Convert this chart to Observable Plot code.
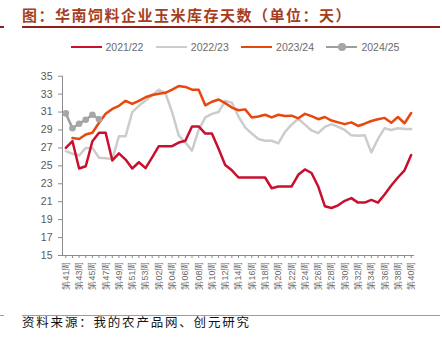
<!DOCTYPE html>
<html><head><meta charset="utf-8">
<script src="https://cdn.jsdelivr.net/npm/d3@7"></script>
<script src="https://cdn.jsdelivr.net/npm/@observablehq/plot@0.6"></script>
<style>
body{margin:0;background:#fff;}
#wrap{position:relative;width:442px;height:345px;overflow:hidden;font-family:Arial,"Liberation Sans",sans-serif;background:#fff;}
#title{position:absolute;left:22px;top:5px;font-family:"Noto Sans CJK SC",sans-serif;font-weight:bold;font-size:15px;letter-spacing:1.5px;color:#A63E1E;white-space:nowrap;line-height:20px;}
.rule1{position:absolute;left:22px;top:26px;width:418px;height:1.5px;background:#8E1F1F;}
.stub1{position:absolute;left:0;top:26px;width:4px;height:1.5px;background:#8E1F1F;}
.rule2{position:absolute;left:22px;top:315px;width:418px;height:1px;background:#C98A8A;}
.stub2{position:absolute;left:0;top:315px;width:4px;height:1px;background:#C98A8A;}
#legend{position:absolute;left:70.5px;top:41px;display:flex;align-items:center;font-size:10.5px;color:#6b6b6b;}
.item{display:flex;align-items:center;width:85.3px;}
.sw{position:relative;width:31px;height:2.5px;margin-right:4px;flex:none;}
.sw .dot{position:absolute;left:12px;top:-2.5px;width:7.5px;height:7.5px;border-radius:50%;}
#chart{position:absolute;left:0;top:0;}
#caption{position:absolute;left:22px;top:314px;font-family:"Noto Sans CJK SC",serif;font-size:12.5px;letter-spacing:1.8px;color:#111;white-space:nowrap;line-height:16px;}
</style></head><body>
<div id="wrap">
  <div id="chart"></div>
  <div class="stub1"></div>
  <div id="title">图：华南饲料企业玉米库存天数（单位：天）</div>
  <div class="rule1"></div>
  <div id="legend"></div>
  <div class="stub2"></div>
  <div class="rule2"></div>
  <div id="caption">资料来源：我的农产品网、创元研究</div>
</div>
<script>
const weeks = ["第41周","第42周","第43周","第44周","第45周","第46周","第47周","第48周","第49周","第50周","第51周","第52周","第53周",
"第01周","第02周","第03周","第04周","第05周","第06周","第07周","第08周","第09周","第10周",
"第11周","第12周","第13周","第14周","第15周","第16周","第17周","第18周","第19周","第20周",
"第21周","第22周","第23周","第24周","第25周","第26周","第27周","第28周","第29周","第30周",
"第31周","第32周","第33周","第34周","第35周","第36周","第37周","第38周","第39周","第40周"];

const s2122 = [27.0,27.75,24.7,24.95,27.75,28.7,28.7,25.6,26.4,25.7,24.7,25.4,24.75,
25.95,27.2,27.2,27.2,27.6,27.8,29.4,29.4,28.6,28.6,
26.9,25.1,24.5,23.7,23.7,23.7,23.7,23.7,22.5,22.7,
22.7,22.7,24.0,24.6,24.2,22.7,20.5,20.3,20.6,21.1,
21.4,20.9,20.9,21.2,20.9,21.8,22.8,23.7,24.5,26.2];

const s2223 = [26.65,26.35,26.15,27.0,27.0,25.9,25.85,25.75,28.3,28.3,31.0,31.7,32.3,
32.85,33.5,33.1,31.0,28.4,27.6,26.7,29.0,30.4,30.8,
31.0,32.25,32.05,30.5,29.3,28.6,28.0,27.8,27.8,27.5,
28.8,29.6,30.25,29.6,28.95,28.65,29.35,29.65,29.35,29.0,
28.4,28.35,28.4,26.5,28.0,29.2,29.0,29.2,29.1,29.1];

const s2324 = [null,28.1,28.0,28.5,28.7,29.8,30.8,31.35,31.7,32.25,31.9,32.25,32.65,
32.9,33.05,33.15,33.5,33.9,33.8,33.5,33.5,31.75,32.15,
32.4,32.0,31.5,31.2,31.3,30.4,30.5,30.7,30.4,30.7,
30.55,30.6,30.3,30.8,30.55,30.2,30.45,30.05,29.85,29.65,
29.85,29.45,29.7,30.0,30.2,30.35,29.8,30.45,29.75,30.9];

const s2425 = [30.85,29.2,29.7,30.15,30.7,30.2];

const seriesNames = ["2021/22","2022/23","2023/24","2024/25"];
const seriesColors = ["#C8102E","#CCCCCC","#E8470D","#9E9E9E"];
const yTicks = [15,17,19,21,23,25,27,29,31,33,35];

// build tidy rows (draw order: 2022/23, 2021/22, 2023/24, 2024/25)
const bySeries = {"2021/22": s2122, "2022/23": s2223, "2023/24": s2324, "2024/25": s2425};
const drawOrder = ["2022/23","2021/22","2023/24","2024/25"];
const rows = [];
for (const name of drawOrder) {
  bySeries[name].forEach((v, i) => { if (v != null) rows.push({week: weeks[i], value: v, series: name}); });
}

const chart = Plot.plot({
  width: 442, height: 310,
  marginTop: 75.7, marginBottom: 55, marginLeft: 62, marginRight: 28,
  x: {type: "point", domain: weeks, padding: 0.5},
  y: {domain: [15, 35]},
  color: {domain: seriesNames, range: seriesColors},
  style: {fontFamily: "Arial, 'Liberation Sans', sans-serif", background: "transparent", color: "#595959"},
  marks: [
    Plot.axisY({ticks: yTicks, tickSize: 4, tickPadding: 6, fontSize: 10.5, label: null, stroke: "#8c8c8c", fill: "#595959"}),
    Plot.axisX({tickSize: 3, tickPadding: 3, tickRotate: -90, fontSize: 9, label: null, stroke: "#8c8c8c", fill: "#6b6b6b",
      tickFormat: d => (weeks.indexOf(d) % 2 === 0 ? d : "")}),
    Plot.frame({anchor: "left", stroke: "#8c8c8c"}),
    Plot.ruleY([15], {stroke: "#8c8c8c"}),
    Plot.line(rows, {x: "week", y: "value", z: "series", stroke: "series", strokeWidth: 2.5}),
    Plot.dot(rows.filter(d => d.series === "2024/25"), {x: "week", y: "value", fill: "#A6A6A6", r: 3.3})
  ]
});
document.getElementById("chart").appendChild(chart);

// legend
const legend = document.getElementById("legend");
seriesNames.forEach((name, i) => {
  const item = document.createElement("div");
  item.className = "item";
  const sw = document.createElement("div");
  sw.className = "sw";
  sw.style.background = seriesColors[i];
  if (name === "2024/25") {
    const dot = document.createElement("div");
    dot.className = "dot";
    dot.style.background = "#A6A6A6";
    sw.appendChild(dot);
  }
  const label = document.createElement("span");
  label.textContent = name;
  item.appendChild(sw);
  item.appendChild(label);
  legend.appendChild(item);
});
</script>
</body></html>
